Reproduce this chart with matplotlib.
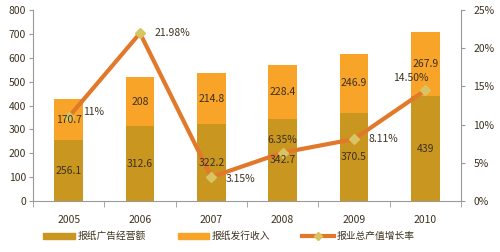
import matplotlib
matplotlib.use("Agg")
import matplotlib.pyplot as plt
from matplotlib.lines import Line2D
from matplotlib.patches import Patch
from matplotlib.ticker import FuncFormatter

plt.rcParams["font.family"] = ["Noto Sans CJK SC", "DejaVu Sans"]

years = ["2005", "2006", "2007", "2008", "2009", "2010"]
ad_revenue = [256.1, 312.6, 322.2, 342.7, 370.5, 439]
circulation = [170.7, 208, 214.8, 228.4, 246.9, 267.9]
growth = [11.0, 21.98, 3.15, 6.35, 8.11, 14.50]
growth_labels = ["11%", "21.98%", "3.15%", "6.35%", "8.11%", "14.50%"]

C_AD = "#C9961F"
C_CIRC = "#F7A428"
C_LINE = "#E2782A"
C_MARK = "#D8C463"
C_TXT = "#3d3220"
C_AX = "#9a9a9a"

fig = plt.figure(figsize=(5, 2.52), dpi=100)
ax = fig.add_axes([0.066, 0.202, 0.856, 0.758])
x = list(range(len(years)))

ax.bar(x, ad_revenue, width=0.4, color=C_AD, zorder=2)
ax.bar(x, circulation, width=0.4, bottom=ad_revenue, color=C_CIRC, zorder=2)

ax.set_xlim(-0.5, 5.5)
ax.set_ylim(0, 800)
ax.set_yticks(range(0, 801, 100))
ax.set_xticks(x)
ax.set_xticklabels(years)
ax.set_xticks([i + 0.5 for i in range(-1, 6)], minor=True)
ax.tick_params(axis="x", which="major", length=0, labelsize=7.5, colors=C_TXT, pad=10)
ax.tick_params(axis="x", which="minor", length=4, color=C_AX)
ax.tick_params(axis="y", length=3, color=C_AX, labelsize=7.5, labelcolor=C_TXT, pad=2)
for s in ["top", "right"]:
    ax.spines[s].set_visible(False)
for s in ["left", "bottom"]:
    ax.spines[s].set_color(C_AX)

ax2 = ax.twinx()
ax2.plot(x, growth, color=C_LINE, linewidth=3, marker="D", markersize=5,
         markerfacecolor=C_MARK, markeredgecolor=C_MARK, zorder=3)
ax2.set_ylim(0, 25)
ax2.set_yticks(range(0, 26, 5))
ax2.yaxis.set_major_formatter(FuncFormatter(lambda v, p: f"{v:.0f}%"))
ax2.tick_params(axis="y", length=3, color=C_AX, labelsize=7.5, labelcolor=C_TXT, pad=6)
for s in ["top", "left", "bottom"]:
    ax2.spines[s].set_visible(False)
ax2.spines["right"].set_color(C_AX)

# bar value labels drawn on top of the line
for i in x:
    ax2.text(i, ad_revenue[i] / 2, f"{ad_revenue[i]:g}", ha="center", va="center",
             fontsize=7.5, color=C_TXT, zorder=5, transform=ax.transData)
    ax2.text(i, ad_revenue[i] + circulation[i] / 2, f"{circulation[i]:g}", ha="center",
             va="center", fontsize=7.5, color=C_TXT, zorder=5, transform=ax.transData)

offsets = [(0.2, 0.6), (0.2, 0), (0.2, -0.2), (0.0, 1.7), (0.2, 0), (-0.45, 1.6)]
for i, (dx, dy) in enumerate(offsets):
    ha = "center" if i in (3,) else "left"
    ax2.text(i + dx, growth[i] + dy, growth_labels[i], ha=ha, va="center",
             fontsize=7.5, color=C_TXT, zorder=6)

handles = [
    Patch(color=C_AD),
    Patch(color=C_CIRC),
    Line2D([], [], color=C_LINE, linewidth=3, marker="D", markersize=4,
           markerfacecolor=C_MARK, markeredgecolor=C_MARK),
]
fig.legend(handles, ["报纸广告经营额", "报纸发行收入", "报业总产值增长率"],
           loc="center", bbox_to_anchor=(0.458, 0.063), ncol=3, frameon=False,
           fontsize=7, handlelength=3.2, handleheight=0.6, columnspacing=3.3,
           handletextpad=0.3, labelcolor=C_TXT)

fig.savefig("out.png", dpi=100)
